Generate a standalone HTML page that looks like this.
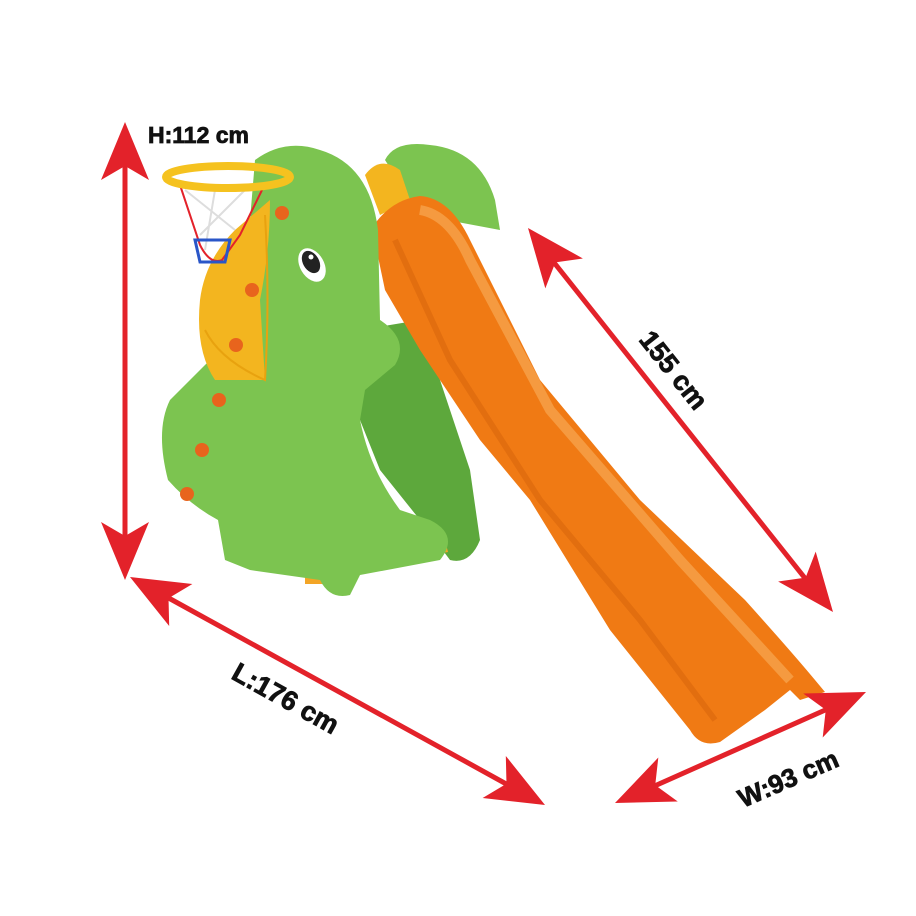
<!DOCTYPE html>
<html><head><meta charset="utf-8"><style>
html,body{margin:0;padding:0;background:#fff;}
svg{display:block}
text{font-family:"Liberation Sans",sans-serif;font-weight:900;fill:#111;stroke:#111;stroke-width:0.8;}
</style></head><body>
<svg width="916" height="916" viewBox="0 0 916 916" xmlns="http://www.w3.org/2000/svg">
<defs>
<polygon id="ah" points="0,0 -58,-24 -44,0 -58,24" fill="#e3222a"/>
</defs>
<rect width="916" height="916" fill="#fff"/>

<path d="M385,160 Q395,140 430,145 Q480,150 495,200 L500,230 L420,215 Z" fill="#7cc450"/>
<path d="M365,175 Q380,155 400,170 L410,200 L380,215 Z" fill="#f3b51f"/>
<path d="M360,330 L420,320 L470,470 L480,540 Q470,565 450,560 L420,520 L380,470 L360,420 Z" fill="#5da83c"/>
<path d="M320,560 L445,540 L448,552 L322,575 Z" fill="#f3a526"/>
<rect x="305" y="570" width="18" height="14" fill="#f3a526"/>

<path d="M372,228 Q390,200 420,196 Q450,198 470,240 L540,380 L640,500 L745,600 Q790,650 815,680 L825,692 L800,700 L790,690 L765,710 L720,742 Q700,748 690,730 L610,630 L530,500 L480,440 L420,350 L385,290 Z" fill="#f07a14"/>
<path d="M420,210 Q450,215 470,260 L550,410 L680,560 L790,680" stroke="#f59a40" stroke-width="10" fill="none"/>
<path d="M395,240 L450,360 L540,500 L640,620 L715,720" stroke="#d9650c" stroke-width="6" fill="none" opacity="0.6"/>

<path d="M255,160 Q285,138 320,150 Q370,165 378,230 L380,320 Q410,340 395,365 L365,390 L360,420 Q370,470 400,510 L430,520 Q460,535 440,560 L360,575 L350,595 Q330,600 320,580 L250,570 L225,560 L218,520 Q190,505 168,480 Q155,430 170,400 L210,360 L205,300 Q210,250 250,220 Z" fill="#7cc450"/>
<path d="M235,230 L270,200 Q270,250 260,300 L265,380 L215,380 Q195,350 200,300 Q205,260 235,230 Z" fill="#f3b51f"/>
<path d="M265,215 Q270,300 265,380 Q220,360 205,330" fill="none" stroke="#e8a20f" stroke-width="2"/>
<ellipse cx="312" cy="265" rx="12" ry="18" fill="#fff" transform="rotate(-30 312 265)"/>
<ellipse cx="311" cy="262" rx="8" ry="12" fill="#222" transform="rotate(-30 311 262)"/>
<circle cx="311" cy="257" r="2.5" fill="#fff"/>
<g fill="#e8641d">
<circle cx="282" cy="213" r="7"/><circle cx="252" cy="290" r="7"/><circle cx="236" cy="345" r="7"/>
<circle cx="219" cy="400" r="7"/><circle cx="202" cy="450" r="7"/><circle cx="187" cy="494" r="7"/>
</g>
<path d="M180,185 L200,245 Q210,265 222,260 L240,235 L262,190" fill="none" stroke="#e3222a" stroke-width="2"/>
<path d="M185,190 L235,230 M215,190 L205,250 M245,190 L200,235" stroke="#ddd" stroke-width="2"/>
<path d="M195,240 L230,240 L225,262 L200,262 Z" fill="none" stroke="#2a56c8" stroke-width="3"/>
<ellipse cx="228" cy="177" rx="62" ry="11" fill="none" stroke="#f5c21f" stroke-width="8"/>

<g stroke="#e3222a" stroke-width="5">
<line x1="125" y1="160" x2="125" y2="545"/>
<line x1="165" y1="596" x2="510" y2="786"/>
<line x1="552" y1="260" x2="808" y2="582"/>
<line x1="650" y1="788" x2="832" y2="707"/>
</g>
<use href="#ah" transform="translate(125,122) rotate(-90)"/>
<use href="#ah" transform="translate(125,580) rotate(90)"/>
<use href="#ah" transform="translate(130,577) rotate(208.9)"/>
<use href="#ah" transform="translate(545,805) rotate(28.9)"/>
<use href="#ah" transform="translate(528,228) rotate(231.5)"/>
<use href="#ah" transform="translate(833,612) rotate(51.5)"/>
<use href="#ah" transform="translate(615,803) rotate(156.1)"/>
<use href="#ah" transform="translate(866,692) rotate(-23.9)"/>

<text x="148" y="143" font-size="23">H:112 cm</text>
<text x="0" y="0" font-size="27" transform="translate(638,340) rotate(51.5)">155 cm</text>
<text x="0" y="0" font-size="27" transform="translate(230,678) rotate(29)">L:176 cm</text>
<text x="0" y="0" font-size="26" transform="translate(743,808) rotate(-23.5)">W:93 cm</text>
</svg>
</body></html>
